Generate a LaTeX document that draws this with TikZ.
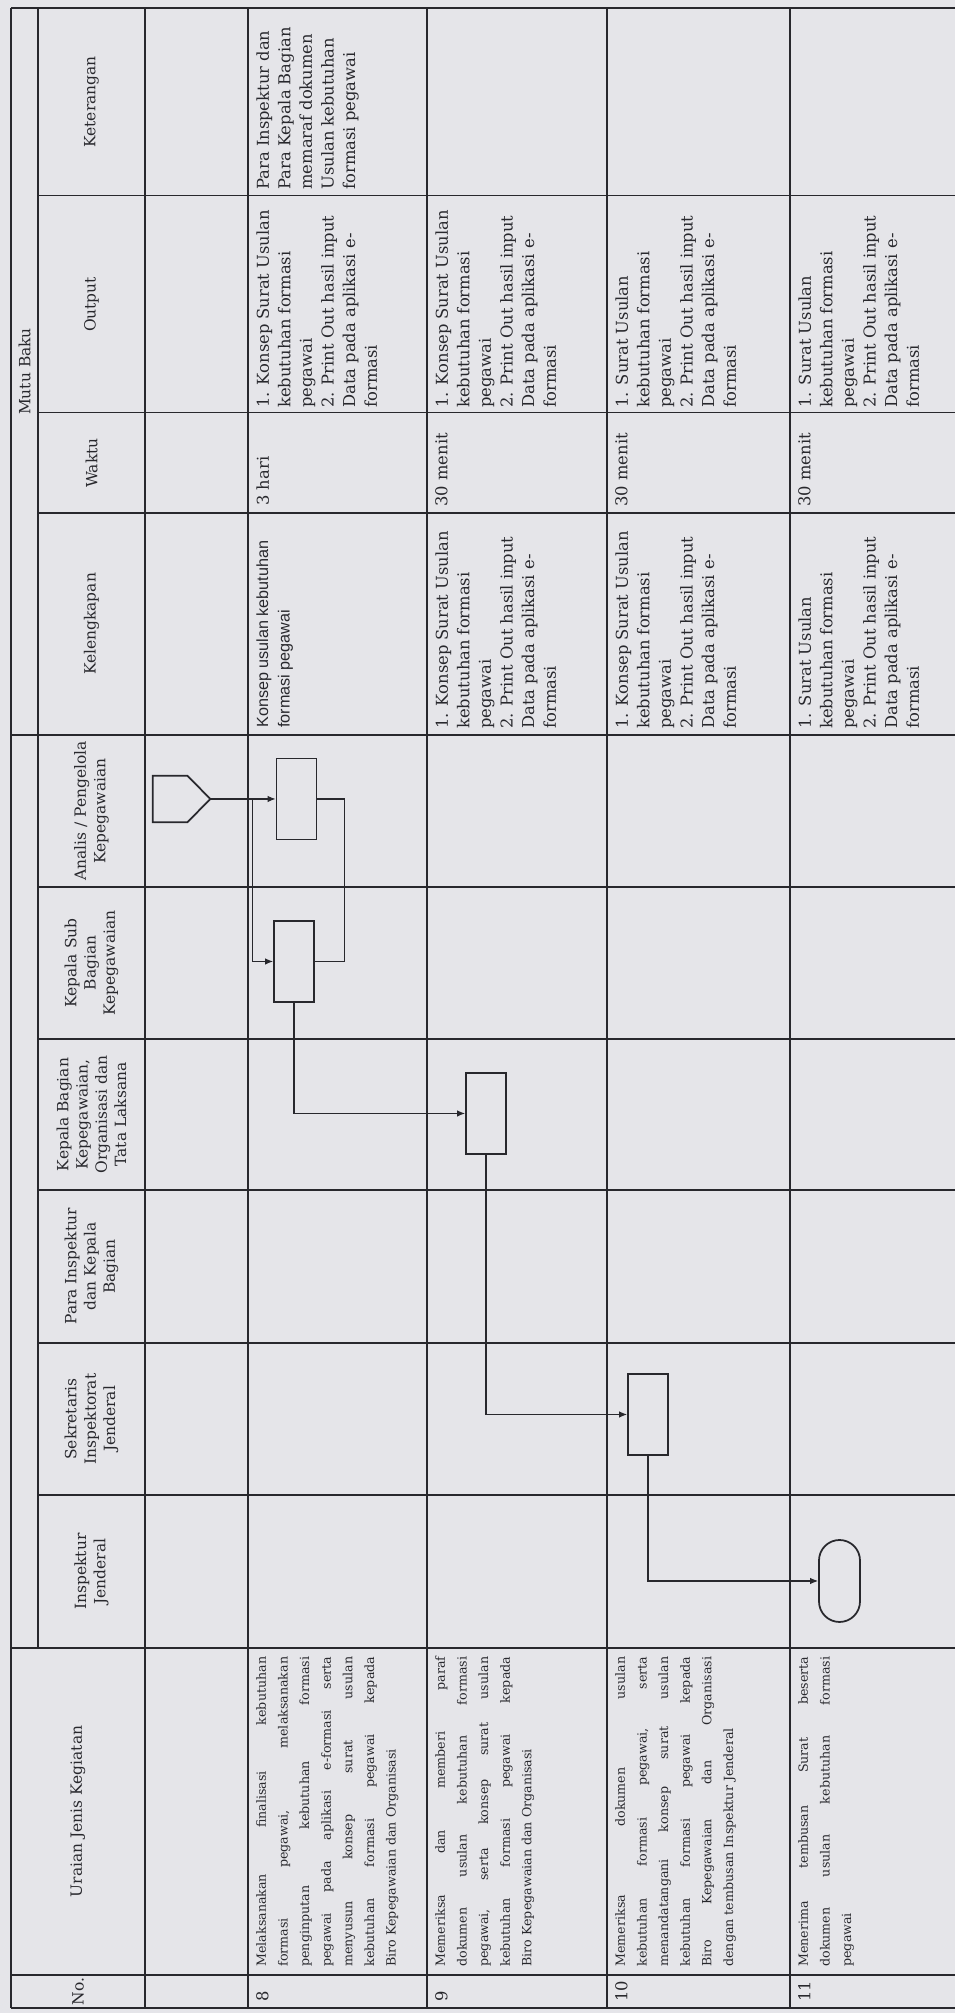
\documentclass[tikz,border=0pt]{standalone}
\usepackage{fontspec}
\setmainfont{DejaVu Serif}
\newfontfamily\arialfont{Liberation Sans}
\usetikzlibrary{arrows.meta,calc,shapes.misc}

\definecolor{paper}{RGB}{229,229,233}
\definecolor{ink}{RGB}{40,40,45}

\tolerance=10000

\begin{document}
\begin{tikzpicture}[
    x=0.02cm, y=0.02cm,
    rotate=90, transform shape,
    >={Latex[length=4.5pt,width=3.6pt]},
    rule/.style={draw=ink, line width=0.6pt},
    border/.style={draw=ink, line width=1.3pt},
    head/.style={align=center, text=ink, inner sep=0pt, font=\fontsize{8.8}{11}\selectfont},
    txt/.style={anchor=north west, align=left, text=ink, inner sep=0pt, font=\fontsize{9.3}{12.3}\selectfont},
    uraian/.style={txt, text width=6.2cm, align=justify, font=\fontsize{7.2}{12.3}\selectfont},
    act/.style={draw=ink, line width=1pt, minimum width=1.62cm, minimum height=0.8cm, inner sep=0pt},
    endact/.style={act, rounded rectangle, minimum width=1.64cm, minimum height=0.82cm},
    flow/.style={->, draw=ink, line width=0.6pt},
    link/.style={draw=ink, line width=0.6pt},
  ]
  \useasboundingbox (0,0) rectangle (2013,955);
  \fill[paper] (0,0) rectangle (2013,955);

  % table frame and rules
  \draw[border] (5,0) -- (5,944);
  \draw[border] (2005,944) -- (2005,0);
  \draw[rule] (5,944) -- (2005,944);
  \foreach \cx in {38,365,1278} \draw[rule] (\cx,944) -- (\cx,0);
  \foreach \cx in {518,670,823,974,1126,1500,1600,1817} \draw[rule] (\cx,917) -- (\cx,0);
  \draw[rule] (365,917) -- (2005,917);
  \foreach \ry in {810,707,528,348,165} \draw[rule] (5,\ry) -- (2005,\ry);

  % headers
  \node[head] (hno) at (21.5,877) {No.};
  \node[head] (hur) at (201.5,877) {Uraian Jenis Kegiatan};
  \node[head] (hij) at (441.5,863.5) {Inspektur\\Jenderal};
  \node[head] (hsek) at (594,863.5) {Sekretaris\\Inspektorat\\Jenderal};
  \node[head] (hpi) at (746.5,863.5) {Para Inspektur\\dan Kepala\\Bagian};
  \node[head] (hkb) at (898.5,863.5) {Kepala Bagian\\Kepegawaian,\\Organisasi dan\\Tata Laksana};
  \node[head] (hsub) at (1050,863.5) {Kepala Sub\\Bagian\\Kepegawaian};
  \node[head] (han) at (1202,863.5) {Analis / Pengelola\\Kepegawaian};
  \node[head] (hkel) at (1389,863.5) {Kelengkapan};
  \node[head] (hwak) at (1550,863.5) {Waktu};
  \node[head] (hout) at (1708.5,863.5) {Output};
  \node[head] (hket) at (1911,863.5) {Keterangan};
  \node[head] (hmutu) at (1641.5,930.5) {Mutu Baku};

  % row 8
  \node[txt] (n8) at (11,699) {8};
  \node[uraian] (u8) at (46,699) {Melaksanakan finalisasi kebutuhan\linebreak
    formasi pegawai, melaksanakan\linebreak
    penginputan kebutuhan formasi\linebreak
    pegawai pada aplikasi e-formasi serta\linebreak
    menyusun konsep surat usulan\linebreak
    kebutuhan formasi pegawai kepada\linebreak
    Biro Kepegawaian dan Organisasi};
  \node[txt, font=\arialfont\fontsize{9.2}{12.3}\selectfont] (k8) at (1285,699) {Konsep usulan kebutuhan\\formasi pegawai};
  \node[txt] (w8) at (1507,699) {3 hari};
  \node[txt] (o8) at (1605,699) {1. Konsep Surat Usulan\\kebutuhan formasi\\pegawai\\2. Print Out hasil input\\Data pada aplikasi e-\\formasi};
  \node[txt] (ket8) at (1823,699) {Para Inspektur dan\\Para Kepala Bagian\\memaraf dokumen\\Usulan kebutuhan\\formasi pegawai};

  % row 9
  \node[txt] (n9) at (11,520) {9};
  \node[uraian] (u9) at (46,520) {Memeriksa dan memberi paraf\linebreak
    dokumen usulan kebutuhan formasi\linebreak
    pegawai, serta konsep surat usulan\linebreak
    kebutuhan formasi pegawai kepada\linebreak
    Biro Kepegawaian dan Organisasi};
  \node[txt] (k9) at (1284,520) {1. Konsep Surat Usulan\\kebutuhan formasi\\pegawai\\2. Print Out hasil input\\Data pada aplikasi e-\\formasi};
  \node[txt] (w9) at (1506,520) {30 menit};
  \node[txt] (o9) at (1605,520) {1. Konsep Surat Usulan\\kebutuhan formasi\\pegawai\\2. Print Out hasil input\\Data pada aplikasi e-\\formasi};

  % row 10
  \node[txt] (n10) at (11,340) {10};
  \node[uraian] (u10) at (46,340) {Memeriksa dokumen usulan\linebreak
    kebutuhan formasi pegawai, serta\linebreak
    menandatangani konsep surat usulan\linebreak
    kebutuhan formasi pegawai kepada\linebreak
    Biro Kepegawaian dan Organisasi\linebreak
    dengan tembusan Inspektur Jenderal};
  \node[txt] (k10) at (1284,340) {1. Konsep Surat Usulan\\kebutuhan formasi\\pegawai\\2. Print Out hasil input\\Data pada aplikasi e-\\formasi};
  \node[txt] (w10) at (1506,340) {30 menit};
  \node[txt] (o10) at (1605,340) {1. Surat Usulan\\kebutuhan formasi\\pegawai\\2. Print Out hasil input\\Data pada aplikasi e-\\formasi};

  % row 11
  \node[txt] (n11) at (11,157) {11};
  \node[uraian] (u11) at (46,157) {Menerima tembusan Surat beserta\linebreak
    dokumen usulan kebutuhan formasi\linebreak
    pegawai};
  \node[txt] (k11) at (1284,157) {1. Surat Usulan\\kebutuhan formasi\\pegawai\\2. Print Out hasil input\\Data pada aplikasi e-\\formasi};
  \node[txt] (w11) at (1506,157) {30 menit};
  \node[txt] (o11) at (1605,157) {1. Surat Usulan\\kebutuhan formasi\\pegawai\\2. Print Out hasil input\\Data pada aplikasi e-\\formasi};

  % flow symbols
  \node[minimum width=0.92cm, minimum height=1.14cm, inner sep=0pt] (conn) at (1214,773.5) {};
  \draw[draw=ink, line width=1pt] (conn.north west) -- (conn.north east)
    -- ($(conn.south east)+(0,23)$) -- (conn.south)
    -- ($(conn.south west)+(0,23)$) -- cycle;
  \node[act] (an) at (1214,658.5) {};
  \node[act] (sub) at (1051.5,661) {};
  \node[act] (kb) at (899.5,469) {};
  \node[act] (sek) at (598.5,307) {};
  \node[endact] (ij) at (432,115.5) {};

  % connectors
  \coordinate (split) at ($(conn.south)!0.64!(an.north)$);
  \draw[flow] (conn.south) -- (an.north);
  \draw[flow] (split) -| (sub.north);
  \draw[link] (an.south) -- ++(0,-27) -| (sub.south);
  \draw[flow] (sub.west) -| (kb.north);
  \draw[flow] (kb.west) -| (sek.north);
  \draw[flow] (sek.west) -| (ij.north);
\end{tikzpicture}
\end{document}
